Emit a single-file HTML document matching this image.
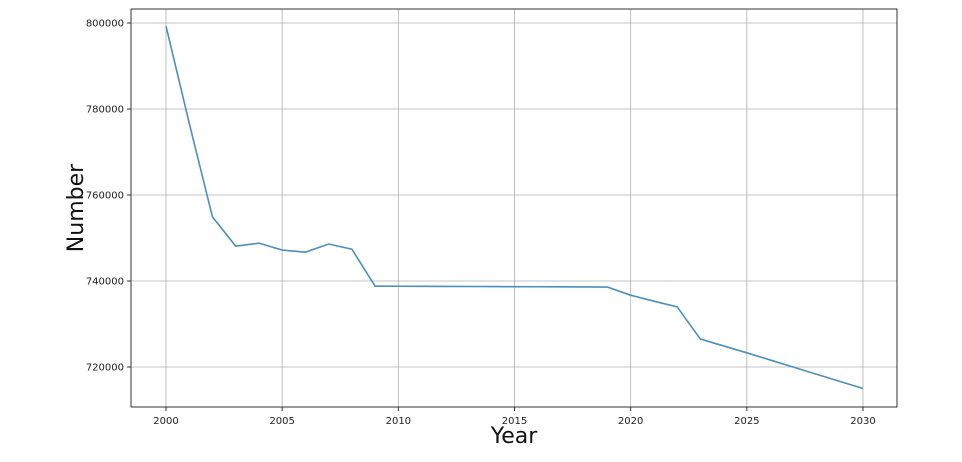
<!DOCTYPE html>
<html><head><meta charset="utf-8"><style>
body{margin:0;background:#fff;width:962px;height:457px;overflow:hidden}
svg{font-family:"DejaVu Sans","Liberation Sans",sans-serif}
</style></head><body>
<svg id="c" width="962" height="457" xmlns="http://www.w3.org/2000/svg"></svg>
<script>
const years=[2000,2001,2002,2003,2004,2005,2006,2007,2008,2009,2010,2011,2012,2013,2014,2015,2016,2017,2018,2019,2020,2021,2022,2023,2024,2025,2026,2027,2028,2029,2030];
const values=[799300,776700,754900,748100,748800,747200,746700,748600,747400,738800,738780,738760,738740,738720,738700,738680,738660,738640,738620,738600,736700,735300,734000,726500,724900,723300,721640,719980,718320,716660,715000];
const xTicks=[2000,2005,2010,2015,2020,2025,2030];
const yTicks=[720000,740000,760000,780000,800000];
const L=131,R=897,T=9,B=407;
const xs=v=>166+(v-2000)*(863-166)/30;
const ys=v=>367-(v-720000)*(344/80000);
const svg=document.getElementById('c');const NS='http://www.w3.org/2000/svg';
function mk(t,a,p){const e=document.createElementNS(NS,t);for(const k in a)e.setAttribute(k,a[k]);(p||svg).appendChild(e);return e;}
xTicks.forEach(t=>{const x=xs(t);
const g=mk('line',{x1:x,x2:x,y1:T,y2:B,stroke:'#b0b0b0','stroke-width':0.8});


const tk=mk('line',{x1:x,x2:x,y1:B,y2:B+4,stroke:'#333'});


const tx=mk('text',{x:x,y:B+17,'text-anchor':'middle','font-size':10,fill:'#222'});tx.textContent=t;


});
yTicks.forEach(t=>{const y=ys(t);
const g=mk('line',{x1:L,x2:R,y1:y,y2:y,stroke:'#b0b0b0','stroke-width':0.8});


const tk=mk('line',{x1:L-4,x2:L,y1:y,y2:y,stroke:'#333'});


const tx=mk('text',{x:L-7,y:y+3.5,'text-anchor':'end','font-size':10,fill:'#222'});tx.textContent=t;


});
const fr=mk('rect',{x:L,y:T,width:R-L,height:B-T,fill:'none',stroke:'#333','stroke-width':1});


const pl=mk('polyline',{points:years.map((y,i)=>xs(y)+','+ys(values[i])).join(' '),fill:'none',stroke:'#4a8fbd','stroke-width':1.6});


const xt=mk('text',{x:514,y:443,'text-anchor':'middle','font-size':22,fill:'#111'});xt.textContent='Year';


const yt=mk('text',{x:0,y:0,'text-anchor':'middle','font-size':22,fill:'#111',transform:'translate(83,208) rotate(-90)'});yt.textContent='Number';


</script>
</body></html>
